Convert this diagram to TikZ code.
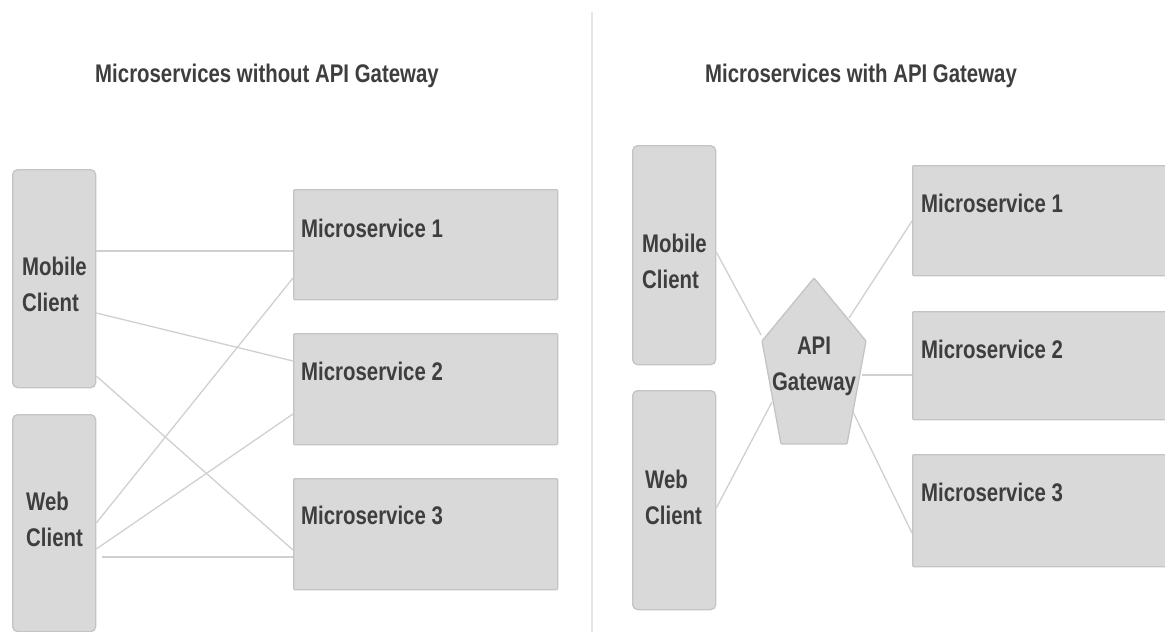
\documentclass[tikz,border=0pt]{standalone}
\usepackage{fontspec}
\setmainfont{Liberation Sans}[FakeStretch=0.8]
\definecolor{boxfill}{HTML}{D9D9D9}
\definecolor{boxline}{HTML}{C4C4C4}
\definecolor{conn}{HTML}{D0D0D0}
\definecolor{txt}{HTML}{3E3E3E}
\definecolor{divider}{HTML}{E6E6E6}
\begin{document}
\begin{tikzpicture}[x=1pt,y=-1pt,
  clientbox/.style={draw=boxline, fill=boxfill, line width=1.3pt, rounded corners=5pt, anchor=north west, inner sep=0pt, minimum width=83pt, minimum height=218pt},
  msbox/.style={draw=boxline, fill=boxfill, line width=1.3pt, rounded corners=1pt, anchor=north west, inner sep=0pt, minimum height=110pt},
  lbl/.style={inner sep=0pt, text=txt, font=\bfseries\fontsize{25.5}{36.5}\selectfont, align=left},
  conn/.style={draw=conn, line width=1.3pt},
  gw/.style={draw=boxline, fill=boxfill, line width=1.3pt, rounded corners=1pt}]
\useasboundingbox (0,0) rectangle (1165,632);
\clip (0,0) rectangle (1165,632);
\fill[white] (0,0) rectangle (1165,632);
% divider
\draw[divider, line width=2pt] (592,12) -- (592,632);
% titles
\node[lbl, anchor=base] (t1) at (267,82) {Microservices without API Gateway};
\node[lbl, anchor=base] (t2) at (861,82) {Microservices with API Gateway};

% ---------- left panel ----------
\node[clientbox] (lmob) at (12,169) {};
\node[clientbox, minimum height=217pt] (lweb) at (12,414) {};
\node[msbox, minimum width=264pt] (lms1) at (293,189) {};
\node[msbox, minimum width=264pt, minimum height=111pt] (lms2) at (293,333) {};
\node[msbox, minimum width=264pt, minimum height=111pt] (lms3) at (293,478) {};
\node[lbl, anchor=north west] (lmobt) at (22,256.7) {Mobile\\Client};
\node[lbl, anchor=north west] (lwebt) at (26,491.7) {Web\\Client};
\node[lbl, anchor=base west] (lms1t) at (301,237) {Microservice 1};
\node[lbl, anchor=base west] (lms2t) at (301,380) {Microservice 2};
\node[lbl, anchor=base west] (lms3t) at (301,524) {Microservice 3};

\draw[conn] (lmob.east |- 0,251) -- (lms1.west |- 0,251);
\draw[conn] (lmob.east |- 0,313) -- (lms2.west |- 0,361);
\draw[conn] (lmob.east |- 0,376) -- (lms3.west |- 0,550);
\draw[conn] (lweb.east |- 0,523) -- (lms1.west |- 0,278);
\draw[conn] (lweb.east |- 0,549) -- (lms2.west |- 0,414);
\draw[conn] ([xshift=6pt]lweb.east |- 0,557) -- (lms3.west |- 0,557);

% ---------- right panel ----------
\node[clientbox, minimum height=219pt] (rmob) at (632,145) {};
\node[clientbox, minimum height=219pt] (rweb) at (632,390) {};
\node[msbox, minimum width=270pt] (rms1) at (912,165) {};
\node[msbox, minimum width=270pt, minimum height=108pt] (rms2) at (912,311) {};
\node[msbox, minimum width=270pt, minimum height=112pt] (rms3) at (912,454) {};
\node[lbl, anchor=north west] (rmobt) at (642,233.7) {Mobile\\Client};
\node[lbl, anchor=north west] (rwebt) at (645,469.7) {Web\\Client};
\node[lbl, anchor=base west] (rms1t) at (921,212) {Microservice 1};
\node[lbl, anchor=base west] (rms2t) at (921,358) {Microservice 2};
\node[lbl, anchor=base west] (rms3t) at (921,501) {Microservice 3};

% API gateway pentagon
\coordinate (gtop) at (814,278);
\coordinate (gul) at (762,341);
\coordinate (gur) at (866,341);
\coordinate (gll) at (781,444);
\coordinate (glr) at (847,444);
\draw[gw] (gtop) -- (gur) -- (glr) -- (gll) -- (gul) -- cycle;
\node[lbl, align=center, anchor=north] (gwt) at (814,336.7) {API\\Gateway};
\coordinate (gmob) at (761,335);
\coordinate (gweb) at (772,402);
\coordinate (gms1) at (849,318);
\coordinate (gms2) at (862,375);
\coordinate (gms3) at (853,412);

\draw[conn] (rmob.east |- 0,252) -- (gmob);
\draw[conn] (rweb.east |- 0,508) -- (gweb);
\draw[conn] (gms1) -- (rms1.west |- 0,221);
\draw[conn] (gms2) -- (rms2.west |- 0,375);
\draw[conn] (gms3) -- (rms3.west |- 0,533);
\end{tikzpicture}
\end{document}
